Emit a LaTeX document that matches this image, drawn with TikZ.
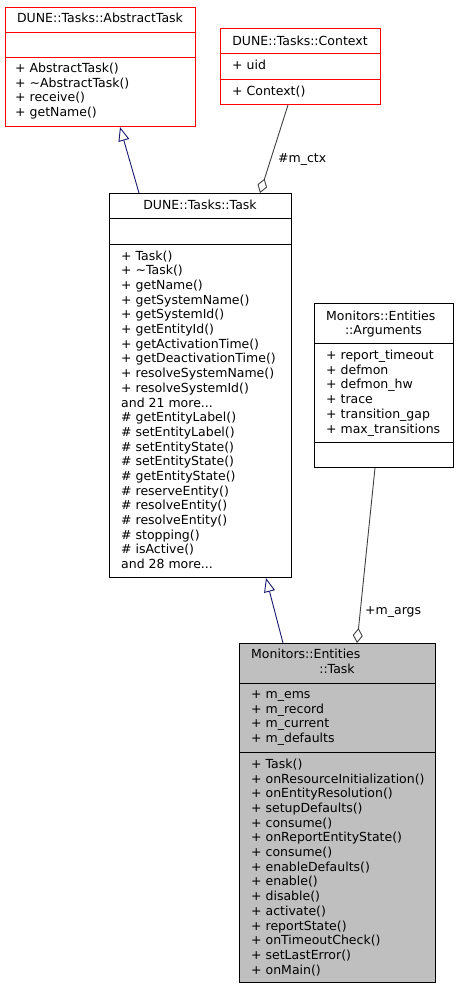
\documentclass[tikz,border=0pt]{standalone}
\usepackage{fontspec}
\setmainfont{DejaVu Sans}
\usetikzlibrary{arrows.meta}
\definecolor{navyedge}{HTML}{191970}
\definecolor{compedge}{HTML}{404040}
\definecolor{boxred}{HTML}{FF0000}
\definecolor{boxgray}{HTML}{BFBFBF}
\newcommand\tdots{...}
\begin{document}
\begin{tikzpicture}[x=1pt,y=-1pt,
  cls/.style={draw, rectangle, inner sep=0pt, line width=1pt, anchor=north west},
  redcls/.style={cls, draw=boxred},
  graycls/.style={cls, fill=boxgray},
  row/.style={inner sep=0pt, anchor=base west, font=\fontsize{12.5}{15}\selectfont},
  ctitle/.style={row, anchor=base},
  inh/.style={draw=navyedge, line width=0.9pt, -{Triangle[open, length=14pt, width=11pt, fill=white]}},
  comp/.style={draw=compedge, line width=0.9pt, -{Diamond[open, length=15pt, width=10pt, fill=white]}},
  elabel/.style={row}]
\useasboundingbox (0,0) rectangle (459,989);

% AbstractTask
\node[redcls, minimum width=190pt, minimum height=119pt] (abs) at (5,7) {};
\draw[boxred, line width=1pt] ([yshift=-25pt]abs.north west) -- ([yshift=-25pt]abs.north east);
\draw[boxred, line width=1pt] ([yshift=-50pt]abs.north west) -- ([yshift=-50pt]abs.north east);
\node[ctitle] (absT) at (100,22.3) {DUNE::Tasks::AbstractTask};
\foreach \t [count=\i] in {+ AbstractTask(), + \textasciitilde AbstractTask(), + receive(), + getName()}
  \node[row, name=absm\i] at (15,{72.3+(\i-1)*14.8}) {\t};

% Context
\node[redcls, minimum width=160pt, minimum height=76pt] (ctx) at (220,28) {};
\draw[boxred, line width=1pt] ([yshift=-25pt]ctx.north west) -- ([yshift=-25pt]ctx.north east);
\draw[boxred, line width=1pt] ([yshift=-51pt]ctx.north west) -- ([yshift=-51pt]ctx.north east);
\node[ctitle] (ctxT) at (300,45.3) {DUNE::Tasks::Context};
\node[row] (ctxa1) at (232,69.3) {+ uid};
\node[row] (ctxm1) at (232,95.3) {+ Context()};

% Task
\node[cls, minimum width=182pt, minimum height=384pt] (task) at (109,193) {};
\draw[line width=1pt] ([yshift=-25pt]task.north west) -- ([yshift=-25pt]task.north east);
\draw[line width=1pt] ([yshift=-51pt]task.north west) -- ([yshift=-51pt]task.north east);
\node[ctitle] (taskT) at (200,209.3) {DUNE::Tasks::Task};
\foreach \t [count=\i] in {+ Task(), + \textasciitilde Task(), + getName(), + getSystemName(),
  + getSystemId(), + getEntityId(), + getActivationTime(), + getDeactivationTime(),
  + resolveSystemName(), + resolveSystemId(), and 21 more\tdots, \# getEntityLabel(),
  \# setEntityLabel(), \# setEntityState(), \# setEntityState(), \# getEntityState(),
  \# reserveEntity(), \# resolveEntity(), \# resolveEntity(), \# stopping(),
  \# isActive(), and 28 more\tdots}
  \node[row, name=taskm\i] at (121,{260.3+(\i-1)*14.67}) {\t};

% Arguments
\node[cls, minimum width=139pt, minimum height=164pt] (args) at (314,303) {};
\draw[line width=1pt] ([yshift=-40pt]args.north west) -- ([yshift=-40pt]args.north east);
\draw[line width=1pt] ([yshift=-139pt]args.north west) -- ([yshift=-139pt]args.north east);
\node[row] (argsT1) at (326,320.3) {Monitors::Entities};
\node[ctitle] (argsT2) at (383.5,334.3) {::Arguments};
\foreach \t [count=\i] in {+ report\_timeout, + defmon, + defmon\_hw, + trace, + transition\_gap, + max\_transitions}
  \node[row, name=argsa\i] at (326,{359.3+(\i-1)*14.8}) {\t};

% Monitors::Entities::Task
\node[graycls, minimum width=196pt, minimum height=339pt] (et) at (239,643) {};
\draw[line width=1pt] ([yshift=-40pt]et.north west) -- ([yshift=-40pt]et.north east);
\draw[line width=1pt] ([yshift=-109.5pt]et.north west) -- ([yshift=-109.5pt]et.north east);
\node[row] (etT1) at (251,658.3) {Monitors::Entities};
\node[ctitle] (etT2) at (337,673.3) {::Task};
\foreach \t [count=\i] in {+ m\_ems, + m\_record, + m\_current, + m\_defaults}
  \node[row, name=eta\i] at (251,{698.3+(\i-1)*14.7}) {\t};
\foreach \t [count=\i] in {+ Task(), + onResourceInitialization(), + onEntityResolution(),
  + setupDefaults(), + consume(), + onReportEntityState(), + consume(), + enableDefaults(),
  + enable(), + disable(), + activate(), + reportState(), + onTimeoutCheck(),
  + setLastError(), + onMain()}
  \node[row, name=etm\i] at (251,{768.3+(\i-1)*14.7}) {\t};

% Connectors
\draw[inh] ([xshift=30pt]task.north west) -- ([xshift=115pt]abs.south west);
\draw[comp] ([xshift=68pt]ctx.south west) -- ([xshift=151pt]task.north west);
\node[elabel] (lctx) at (278,162.3) {\#m\_ctx};
\draw[inh] ([xshift=44pt]et.north west) -- ([xshift=157pt]task.south west);
\draw[comp] ([xshift=61pt]args.south west) -- ([xshift=118pt]et.north west);
\node[elabel] (largs) at (365,614.3) {+m\_args};
\end{tikzpicture}
\end{document}
